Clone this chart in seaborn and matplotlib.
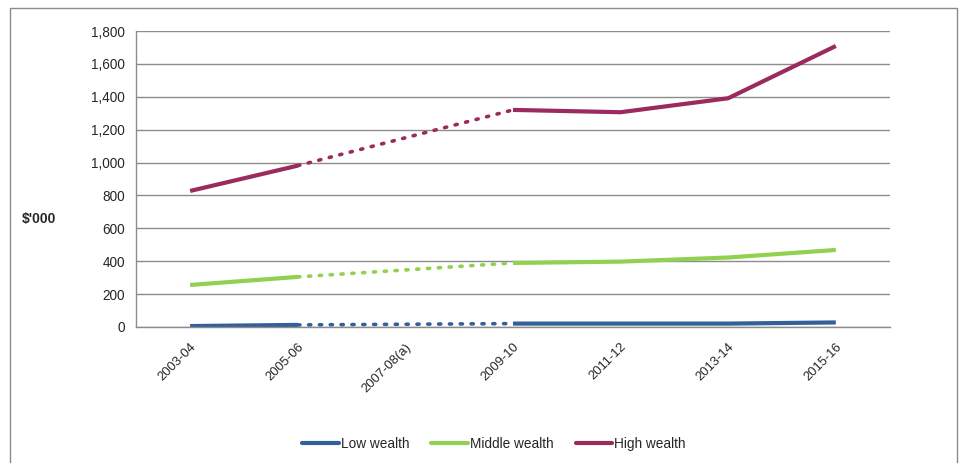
import numpy as np
import pandas as pd
import matplotlib
matplotlib.use("Agg")
import matplotlib.pyplot as plt
from matplotlib.lines import Line2D
from matplotlib.patches import Rectangle
from matplotlib.transforms import ScaledTranslation
import seaborn as sns

periods = ["2003-04", "2005-06", "2007-08(a)", "2009-10", "2011-12", "2013-14", "2015-16"]
low_wealth = [5, 12, np.nan, 20, 20, 20, 27]
middle_wealth = [255, 304, np.nan, 389, 397, 422, 468]
high_wealth = [827, 981, np.nan, 1320, 1306, 1391, 1709]
series_names = ["Low wealth", "Middle wealth", "High wealth"]
colors = ["#33609A", "#92D050", "#9B2A5E"]
y_ticks = [0, 200, 400, 600, 800, 1000, 1200, 1400, 1600, 1800]

sns.set_style("white")
plt.rcParams["font.family"] = ["Liberation Sans", "DejaVu Sans"]

rows = []
for name, vals in zip(series_names, [low_wealth, middle_wealth, high_wealth]):
    for i, v in enumerate(vals):
        rows.append({"pos": i, "period": periods[i], "group": name, "value": v})
df = pd.DataFrame(rows)

fig = plt.figure(figsize=(9.67, 4.63), dpi=100)
ax = fig.add_axes([0.141, 0.294, 0.779, 0.639])

palette = dict(zip(series_names, colors))

# solid segments: before and after the missing survey year
seg1 = df[df["pos"].isin([0, 1])]
seg2 = df[df["pos"] >= 3]
# dotted bridge across the missing year
bridge = df[df["pos"].isin([1, 3])]

for seg in (seg1, seg2):
    sns.lineplot(data=seg, x="pos", y="value", hue="group", palette=palette,
                 hue_order=series_names, legend=False, ax=ax, linewidth=3,
                 solid_capstyle="butt", sort=True, estimator=None)
sns.lineplot(data=bridge, x="pos", y="value", hue="group", palette=palette,
             hue_order=series_names, legend=False, ax=ax, linewidth=2.6,
             linestyle=(0, (0.6, 2.4)), dash_capstyle="round", estimator=None)

ax.set_xlim(-0.5, len(periods) - 0.5)
ax.set_ylim(0, 1800)
ax.set_yticks(y_ticks)
ax.set_yticklabels([f"{v:,}" for v in y_ticks], fontsize=9.8)
ax.yaxis.grid(True, color="#8C8C8C", linewidth=1)
ax.set_axisbelow(True)

ax.set_xticks(np.arange(len(periods)))
ax.set_xticklabels(periods, rotation=45, ha="right", rotation_mode="anchor", fontsize=9.4)
offset = ScaledTranslation(4 / 100, 0, fig.dpi_scale_trans)
for lbl in ax.get_xticklabels():
    lbl.set_transform(lbl.get_transform() + offset)
ax.set_xticks(np.arange(len(periods) + 1) - 0.5, minor=True)
ax.tick_params(axis="x", which="major", length=0, pad=10)
ax.tick_params(axis="x", which="minor", length=5, color="#8C8C8C", width=1, direction="out")
ax.tick_params(axis="y", length=5, color="#8C8C8C", width=1, direction="out", pad=3)
ax.set_xlabel("")
ax.set_ylabel("")

for s in ["top", "right"]:
    ax.spines[s].set_visible(False)
for s in ["left", "bottom"]:
    ax.spines[s].set_color("#8C8C8C")
    ax.spines[s].set_linewidth(1)

fig.text(0.023, 0.527, "$'000", fontsize=10, fontweight="bold", va="center", ha="left")

handles = [Line2D([0], [0], color=c, linewidth=3) for c in colors]
fig.legend(handles, series_names, loc="center", bbox_to_anchor=(0.511, 0.041), ncol=3,
           frameon=False, fontsize=9.8, handlelength=2.7, handletextpad=0.15, columnspacing=1.6)

fig.add_artist(Rectangle((0.010, -0.01), 0.980, 0.993, transform=fig.transFigure,
                         fill=False, edgecolor="#8C8C8C", linewidth=1))

fig.savefig("out.png", dpi=100)
